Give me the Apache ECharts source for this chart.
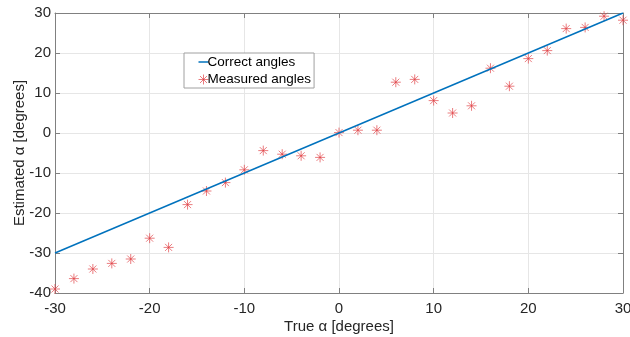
<!DOCTYPE html>
<html>
<head>
<meta charset="utf-8">
<script src="https://cdn.jsdelivr.net/npm/echarts@6/dist/echarts.min.js"></script>
<style>
  html, body { margin: 0; padding: 0; background: #fff; }
  #chart { width: 630px; height: 337px; }
</style>
</head>
<body>
<div id="chart"></div>
<script>
// True angle values (degrees)
const trueAngles = [-30, -28, -26, -24, -22, -20, -18, -16, -14, -12, -10, -8, -6, -4, -2,
  0, 2, 4, 6, 8, 10, 12, 14, 16, 18, 20, 22, 24, 26, 28, 30];
// Estimated angle at each true angle (degrees)
const measuredAngles = [-39, -36.4, -34, -32.6, -31.5, -26.3, -28.6, -17.9, -14.5, -12.4, -9.2,
  -4.4, -5.3, -5.7, -6.1, 0.1, 0.7, 0.7, 12.7, 13.4, 8.1, 5, 6.8, 16.2, 11.7, 18.6, 20.6,
  26.1, 26.4, 29.2, 28.2];
// Ideal response endpoints
const correctX = [-30, 30];
const correctY = [-30, 30];
const xTicks = { min: -30, max: 30, step: 10 };
const yTicks = { min: -40, max: 30, step: 10 };

const textColor = '#262626';
const axisColor = '#808080';
const markerColor = 'rgba(224,60,64,0.75)';
const font = 'Liberation Sans, Arial, Helvetica, sans-serif';
const asterisk = 'path://M0,5L10,5M5,0L5,10M1.5,1.5L8.5,8.5M8.5,1.5L1.5,8.5';

const chart = echarts.init(document.getElementById('chart'), null, { renderer: 'canvas' });

function baseX(pos, labels) {
  return {
    type: 'value', position: pos, min: xTicks.min, max: xTicks.max, interval: xTicks.step,
    axisLine: { show: true, onZero: false, lineStyle: { color: axisColor, width: 1 } },
    axisTick: { show: true, inside: true, length: 5, lineStyle: { color: axisColor } },
    axisLabel: { show: labels, color: textColor, fontSize: 15, fontFamily: font, margin: 8 },
    splitLine: { show: labels, lineStyle: { color: '#e6e6e6', width: 1 } }
  };
}
function baseY(pos, labels) {
  return {
    type: 'value', position: pos, min: yTicks.min, max: yTicks.max, interval: yTicks.step,
    axisLine: { show: true, onZero: false, lineStyle: { color: axisColor, width: 1 } },
    axisTick: { show: true, inside: true, length: 5, lineStyle: { color: axisColor } },
    axisLabel: { show: labels, color: textColor, fontSize: 15, fontFamily: font, margin: 4 },
    splitLine: { show: labels, lineStyle: { color: '#e6e6e6', width: 1 } }
  };
}

const xMain = Object.assign(baseX('bottom', true), {
  name: 'True α [degrees]', nameLocation: 'middle', nameGap: 26, nameMoveOverlap: false,
  nameTextStyle: { color: textColor, fontSize: 15, fontFamily: font }
});
const yMain = Object.assign(baseY('left', true), {
  name: 'Estimated α [degrees]', nameLocation: 'middle', nameGap: 28, nameMoveOverlap: false,
  nameTextStyle: { color: textColor, fontSize: 15, fontFamily: font }
});

chart.setOption({
  animation: false,
  backgroundColor: '#ffffff',
  grid: { left: 55, right: 7, top: 13, bottom: 44, containLabel: false, outerBoundsMode: 'none' },
  legend: {
    orient: 'vertical', left: 184, top: 53,
    backgroundColor: '#ffffff', borderColor: '#a0a0a0', borderWidth: 1, borderRadius: 0,
    padding: [2, 3, 1, 12], itemGap: 3, itemWidth: 10, itemHeight: 13,
    textStyle: { color: '#000', fontSize: 13.5, fontFamily: font, padding: [0, 0, 0, -6] },
    data: [
      { name: 'Correct angles', icon: 'path://M0,0L10,0L10,1.5L0,1.5Z', itemStyle: { color: '#0072BD' } },
      { name: 'Measured angles', icon: asterisk,
        itemStyle: { color: 'none', borderColor: markerColor, borderWidth: 0.9 } }
    ]
  },
  xAxis: [xMain, baseX('top', false)],
  yAxis: [yMain, baseY('right', false)],
  series: [
    {
      name: 'Correct angles', type: 'line', xAxisIndex: 0, yAxisIndex: 0,
      data: correctX.map((x, i) => [x, correctY[i]]),
      showSymbol: false, symbol: 'none',
      lineStyle: { color: '#0072BD', width: 1.5 },
      itemStyle: { color: '#0072BD' }
    },
    {
      name: 'Measured angles', type: 'scatter', xAxisIndex: 0, yAxisIndex: 0,
      data: trueAngles.map((x, i) => [x, measuredAngles[i]]),
      symbol: asterisk, symbolSize: 10,
      itemStyle: { color: 'none', borderColor: markerColor, borderWidth: 0.9, opacity: 1 }
    }
  ]
});
</script>
</body>
</html>
